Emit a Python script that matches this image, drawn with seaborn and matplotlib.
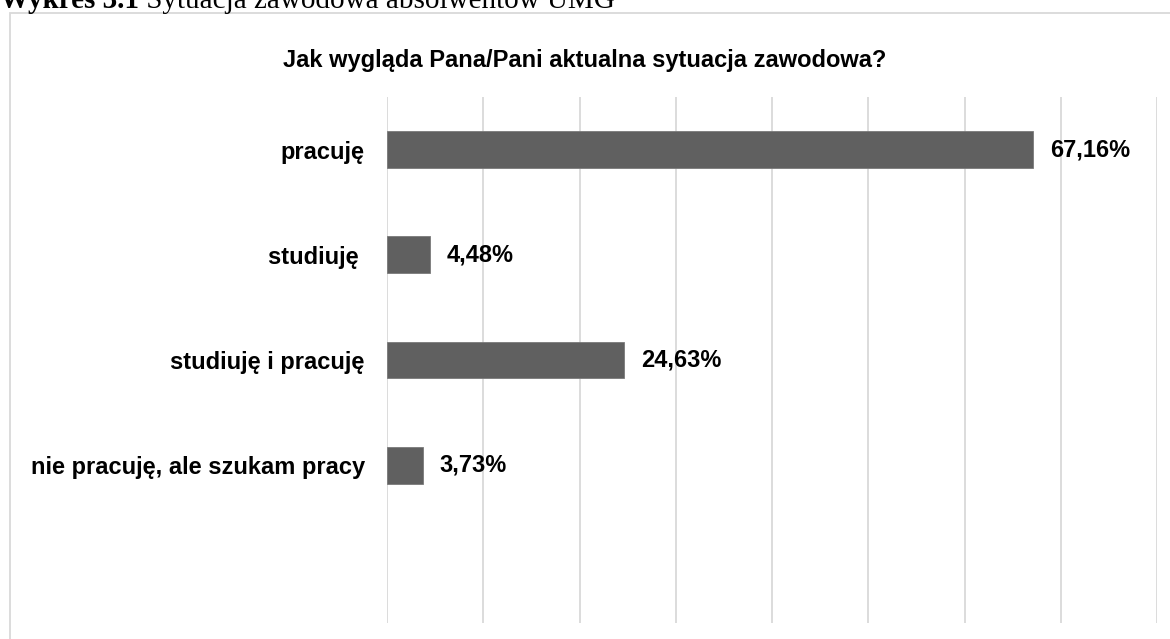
import matplotlib
matplotlib.use("Agg")
import matplotlib.pyplot as plt
import seaborn as sns
import pandas as pd
from matplotlib.patches import Rectangle

# Chart data
categories = ["pracuję", "studiuję ", "studiuję i pracuję", "nie pracuję, ale szukam pracy"]
values = [67.16, 4.48, 24.63, 3.73]
value_labels = ["67,16%", "4,48%", "24,63%", "3,73%"]
x_ticks = [0, 10, 20, 30, 40, 50, 60, 70, 80]

title = "Jak wygląda Pana/Pani aktualna sytuacja zawodowa?"
caption_bold = "Wykres 3.1"
caption_rest = " Sytuacja zawodowa absolwentów UMG"

sns.set_style("white")
plt.rcParams["font.family"] = ["Liberation Sans", "DejaVu Sans"]
plt.rcParams["text.color"] = "black"
plt.rcParams["ytick.color"] = "black"

df = pd.DataFrame({"kategoria": categories, "wartosc": values})

fig = plt.figure(figsize=(11.7, 6.39), dpi=100)
ax = fig.add_axes([387 / 1170, 1 - 623 / 639, (1157 - 387) / 1170, (623 - 97) / 639])

sns.barplot(data=df, x="wartosc", y="kategoria", orient="h", color="#606060",
            width=0.35, saturation=1, ax=ax, edgecolor="#7a7a7a", linewidth=0.6)

ax.set_xlim(0, 80)
ax.set_ylim(4.5, -0.5)
ax.set_xticks(x_ticks)
ax.set_xticklabels([])
ax.grid(axis="x", color="#d9d9d9", linewidth=1.3)
ax.grid(axis="y", visible=False)
ax.set_axisbelow(True)
ax.set_xlabel("")
ax.set_ylabel("")
ax.tick_params(axis="both", length=0)
ax.tick_params(axis="y", pad=16, labelcolor="black")
for lbl in ax.get_yticklabels():
    lbl.set_fontsize(17)
    lbl.set_fontweight("bold")
sns.despine(ax=ax, left=True, bottom=True)

ax.bar_label(ax.containers[0], labels=value_labels, padding=12,
             fontsize=17, fontweight="bold", color="black")

fig.text(0.5, 1 - 60 / 639, title, ha="center", va="center",
         fontsize=17, fontweight="bold")

# chart frame
frame = Rectangle((9.5 / 1170, -0.05), 1.2, 1 - 12.5 / 639 + 0.05,
                  transform=fig.transFigure, fill=False,
                  edgecolor="#d9d9d9", linewidth=1.3)
fig.patches.append(frame)

# caption above the frame (cut by the top edge, as in the source page)
t1 = fig.text(0.0, 1 - 8 / 639, caption_bold, ha="left", va="baseline",
              fontsize=21, fontweight="bold", family="Liberation Serif")
fig.canvas.draw()
bb = t1.get_window_extent(renderer=fig.canvas.get_renderer())
fig.text(bb.x1 / fig.bbox.width, 1 - 8 / 639, caption_rest, ha="left",
         va="baseline", fontsize=21, family="Liberation Serif")

fig.savefig("out.png", dpi=100)
